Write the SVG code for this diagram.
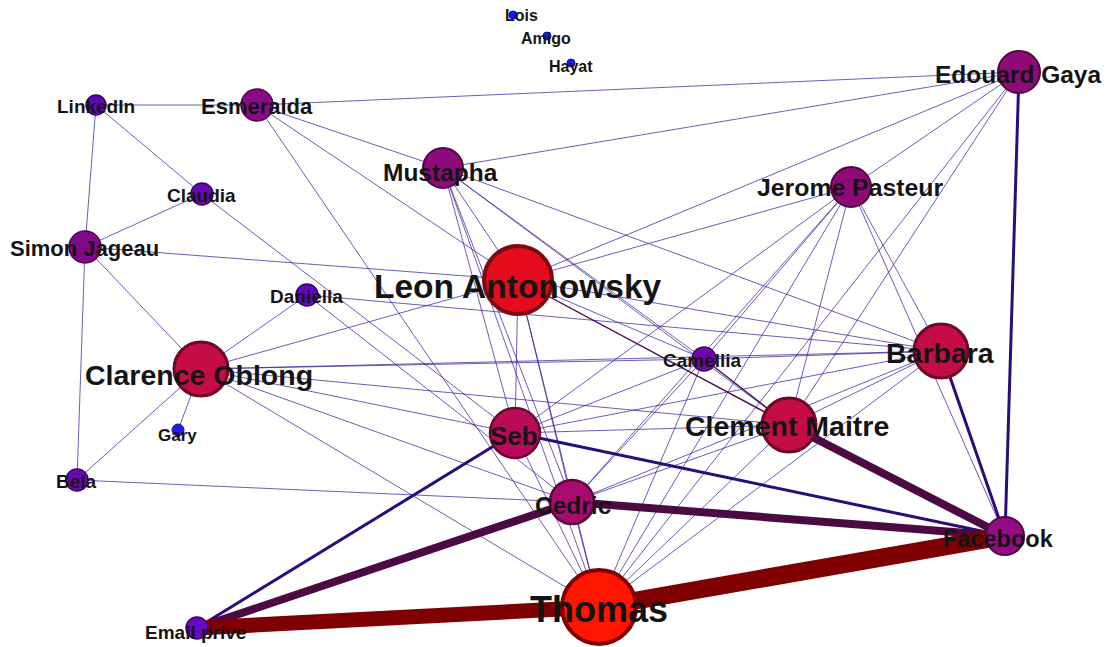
<svg xmlns="http://www.w3.org/2000/svg" width="1111" height="647" viewBox="0 0 1111 647">
  <style>
    .e  { stroke: #2e1e9e; stroke-width: 0.8; fill: none; stroke-opacity: 0.9; }
    .er { stroke: #4a0a52; stroke-width: 1.4; fill: none; }
    .em { stroke: #2a0c7c; stroke-width: 3; fill: none; stroke-linecap: round; }
    .eh { stroke: #4c0a42; stroke-width: 8; fill: none; stroke-linecap: round; }
    .et { stroke: #7e0000; fill: none; stroke-linecap: butt; }
    text { font-family: "Liberation Sans", Arial, sans-serif; font-weight: bold; fill: #141414; }
    .s  { stroke-width: 1.5; }
  </style>

  <!-- connectors: thin links first, weighted links on top -->
  <g id="edges">
    <line class="e" x1="96" y1="105" x2="257" y2="105"/>
    <line class="e" x1="96" y1="105" x2="85" y2="247"/>
    <line class="e" x1="96" y1="105" x2="202" y2="194"/>
    <line class="e" x1="202" y1="194" x2="85" y2="247"/>
    <line class="e" x1="202" y1="194" x2="515" y2="433"/>
    <line class="e" x1="85" y1="247" x2="518" y2="280"/>
    <line class="e" x1="85" y1="247" x2="201" y2="369"/>
    <line class="e" x1="85" y1="247" x2="77" y2="480"/>
    <line class="e" x1="257" y1="105" x2="1019" y2="72"/>
    <line class="e" x1="257" y1="105" x2="443" y2="168"/>
    <line class="e" x1="257" y1="105" x2="518" y2="280"/>
    <line class="e" x1="257" y1="105" x2="599" y2="607"/>
    <line class="e" x1="443" y1="168" x2="1019" y2="72"/>
    <line class="e" x1="443" y1="168" x2="515" y2="433"/>
    <line class="e" x1="443" y1="168" x2="572" y2="502"/>
    <line class="e" x1="443" y1="168" x2="599" y2="607"/>
    <line class="e" x1="443" y1="168" x2="518" y2="280"/>
    <line class="e" x1="443" y1="168" x2="941" y2="351"/>
    <line class="e" x1="443" y1="168" x2="789" y2="425"/>
    <line class="e" x1="443" y1="168" x2="704" y2="359"/>
    <line class="e" x1="201" y1="369" x2="307" y2="295"/>
    <line class="e" x1="201" y1="369" x2="518" y2="280"/>
    <line class="e" x1="201" y1="369" x2="704" y2="359"/>
    <line class="e" x1="201" y1="369" x2="941" y2="351"/>
    <line class="e" x1="201" y1="369" x2="789" y2="425"/>
    <line class="e" x1="201" y1="369" x2="515" y2="433"/>
    <line class="e" x1="201" y1="369" x2="572" y2="502"/>
    <line class="e" x1="201" y1="369" x2="599" y2="607"/>
    <line class="e" x1="201" y1="369" x2="178" y2="430"/>
    <line class="e" x1="201" y1="369" x2="77" y2="480"/>
    <line class="e" x1="307" y1="295" x2="941" y2="351"/>
    <line class="e" x1="307" y1="295" x2="572" y2="502"/>
    <line class="e" x1="77" y1="480" x2="572" y2="502"/>
    <line class="e" x1="518" y1="280" x2="1019" y2="72"/>
    <line class="e" x1="518" y1="280" x2="851" y2="187"/>
    <line class="e" x1="518" y1="280" x2="515" y2="433"/>
    <line class="e" x1="518" y1="280" x2="572" y2="502"/>
    <line class="e" x1="518" y1="280" x2="599" y2="607"/>
    <line class="e" x1="518" y1="280" x2="941" y2="351"/>
    <line class="e" x1="518" y1="280" x2="704" y2="359"/>
    <line class="e" x1="851" y1="187" x2="704" y2="359"/>
    <line class="e" x1="851" y1="187" x2="789" y2="425"/>
    <line class="e" x1="851" y1="187" x2="572" y2="502"/>
    <line class="e" x1="851" y1="187" x2="599" y2="607"/>
    <line class="e" x1="851" y1="187" x2="515" y2="433"/>
    <line class="e" x1="851" y1="187" x2="941" y2="351"/>
    <line class="e" x1="851" y1="187" x2="1005" y2="536"/>
    <line class="e" x1="1019" y1="72" x2="851" y2="187"/>
    <line class="e" x1="1019" y1="72" x2="599" y2="607"/>
    <line class="e" x1="1019" y1="72" x2="789" y2="425"/>
    <line class="e" x1="941" y1="351" x2="515" y2="433"/>
    <line class="e" x1="941" y1="351" x2="572" y2="502"/>
    <line class="e" x1="941" y1="351" x2="599" y2="607"/>
    <line class="e" x1="941" y1="351" x2="789" y2="425"/>
    <line class="e" x1="941" y1="351" x2="704" y2="359"/>
    <line class="e" x1="941" y1="351" x2="1005" y2="536"/>
    <line class="e" x1="704" y1="359" x2="572" y2="502"/>
    <line class="e" x1="704" y1="359" x2="599" y2="607"/>
    <line class="e" x1="704" y1="359" x2="515" y2="433"/>
    <line class="e" x1="515" y1="433" x2="789" y2="425"/>
    <line class="e" x1="515" y1="433" x2="599" y2="607"/>
    <line class="e" x1="572" y1="502" x2="599" y2="607"/>
    <line class="e" x1="572" y1="502" x2="789" y2="425"/>
    <line class="e" x1="789" y1="425" x2="599" y2="607"/>
    <line class="er" x1="518" y1="280" x2="789" y2="425"/>
    <line class="er" x1="704" y1="359" x2="789" y2="425"/>

    <line class="em" x1="197" y1="628" x2="515" y2="433"/>
    <line class="em" x1="515" y1="433" x2="1005" y2="536"/>
    <line class="em" x1="941" y1="351" x2="1005" y2="536"/>
    <line class="em" x1="1019" y1="72" x2="1005" y2="536"/>

    <line class="eh" x1="197" y1="628" x2="572" y2="502"/>
    <line class="eh" x1="572" y1="502" x2="1005" y2="536"/>
    <line class="eh" x1="789" y1="425" x2="1005" y2="536"/>

    <line class="et" stroke-width="15" x1="197" y1="628" x2="599" y2="607"/>
    <line class="et" stroke-width="18" x1="599" y1="607" x2="1005" y2="536"/>
  </g>

  <!-- nodes -->
  <g id="n-lois"><circle cx="513" cy="15" r="4" fill="#1a18f6" stroke="#10107a" stroke-width="1"/><text x="505" y="21" font-size="16">Lois</text></g>
  <g id="n-amigo"><circle cx="547" cy="36" r="4" fill="#1a18f6" stroke="#10107a" stroke-width="1"/><text x="521" y="44" font-size="16">Amigo</text></g>
  <g id="n-hayat"><circle cx="571" cy="63" r="4" fill="#1a18f6" stroke="#10107a" stroke-width="1"/><text x="549" y="72" font-size="16">Hayat</text></g>

  <g id="n-linkedin"><circle cx="96" cy="105" r="10" fill="#6008b4" stroke="#340668" class="s"/><text x="57" y="113" font-size="19">LinkedIn</text></g>
  <g id="n-esmeralda"><circle cx="257" cy="105" r="16" fill="#8c0a8a" stroke="#4c0648" class="s"/><text x="201" y="114" font-size="22">Esmeralda</text></g>
  <g id="n-claudia"><circle cx="202" cy="194" r="11" fill="#6608b0" stroke="#380668" class="s"/><text x="167" y="202" font-size="19">Claudia</text></g>
  <g id="n-simon"><circle cx="85" cy="247" r="16" fill="#82088a" stroke="#46064a" class="s"/><text x="10" y="256" font-size="22">Simon Jageau</text></g>
  <g id="n-mustapha"><circle cx="443" cy="168" r="20" fill="#8e0a7c" stroke="#4e0644" stroke-width="2"/><text x="383" y="181" font-size="24.5">Mustapha</text></g>
  <g id="n-edouard"><circle cx="1019" cy="72" r="21" fill="#8e0a74" stroke="#4e0640" stroke-width="2"/><text x="935" y="83" font-size="24.5">Edouard Gaya</text></g>
  <g id="n-jerome"><circle cx="851" cy="187" r="20" fill="#8e0a76" stroke="#4e0640" stroke-width="2"/><text x="757" y="196" font-size="24.8">Jerome Pasteur</text></g>
  <g id="n-leon"><circle cx="518" cy="280" r="34" fill="#e30b1c" stroke="#7c0a12" stroke-width="4"/><text x="374" y="298" font-size="33.5">Leon Antonowsky</text></g>
  <g id="n-daniella"><circle cx="307" cy="295" r="11" fill="#6008c0" stroke="#36066c" class="s"/><text x="270" y="303" font-size="19">Daniella</text></g>
  <g id="n-clarence"><circle cx="201" cy="369" r="27" fill="#c40c46" stroke="#6c0828" stroke-width="3"/><text x="85" y="385" font-size="28.5">Clarence Oblong</text></g>
  <g id="n-camellia"><circle cx="704" cy="359" r="12" fill="#6c08a8" stroke="#3a0660" class="s"/><text x="663" y="367" font-size="19">Camellia</text></g>
  <g id="n-barbara"><circle cx="941" cy="351" r="27" fill="#c40c46" stroke="#6c0828" stroke-width="3"/><text x="886" y="363" font-size="28.5">Barbara</text></g>
  <g id="n-clement"><circle cx="789" cy="425" r="27" fill="#c40c46" stroke="#6c0828" stroke-width="3"/><text x="685" y="436" font-size="28.5">Clement Maitre</text></g>
  <g id="n-seb"><circle cx="515" cy="433" r="25" fill="#b80c58" stroke="#660830" stroke-width="2.5"/><text x="490" y="445" font-size="26">Seb</text></g>
  <g id="n-gary"><circle cx="178" cy="430" r="6" fill="#2a18f0" stroke="#16107a" stroke-width="1"/><text x="158" y="441" font-size="17">Gary</text></g>
  <g id="n-bela"><circle cx="77" cy="480" r="11" fill="#6a08b4" stroke="#3a0668" class="s"/><text x="56" y="488" font-size="19">Bela</text></g>
  <g id="n-cedric"><circle cx="572" cy="502" r="22" fill="#a80c6c" stroke="#5c083c" stroke-width="2.5"/><text x="535" y="514" font-size="24.5">Cedric</text></g>
  <g id="n-facebook"><circle cx="1005" cy="536" r="19" fill="#960a86" stroke="#520648" stroke-width="2"/><text x="943" y="547" font-size="23.5">Facebook</text></g>
  <g id="n-thomas"><circle cx="599" cy="607" r="37" fill="#ff1600" stroke="#800000" stroke-width="4"/><text x="530" y="622" font-size="36">Thomas</text></g>
  <g id="n-email"><circle cx="197" cy="628" r="11" fill="#6808c4" stroke="#38066c" class="s"/><text x="145" y="639" font-size="19">Email prive</text></g>
</svg>
